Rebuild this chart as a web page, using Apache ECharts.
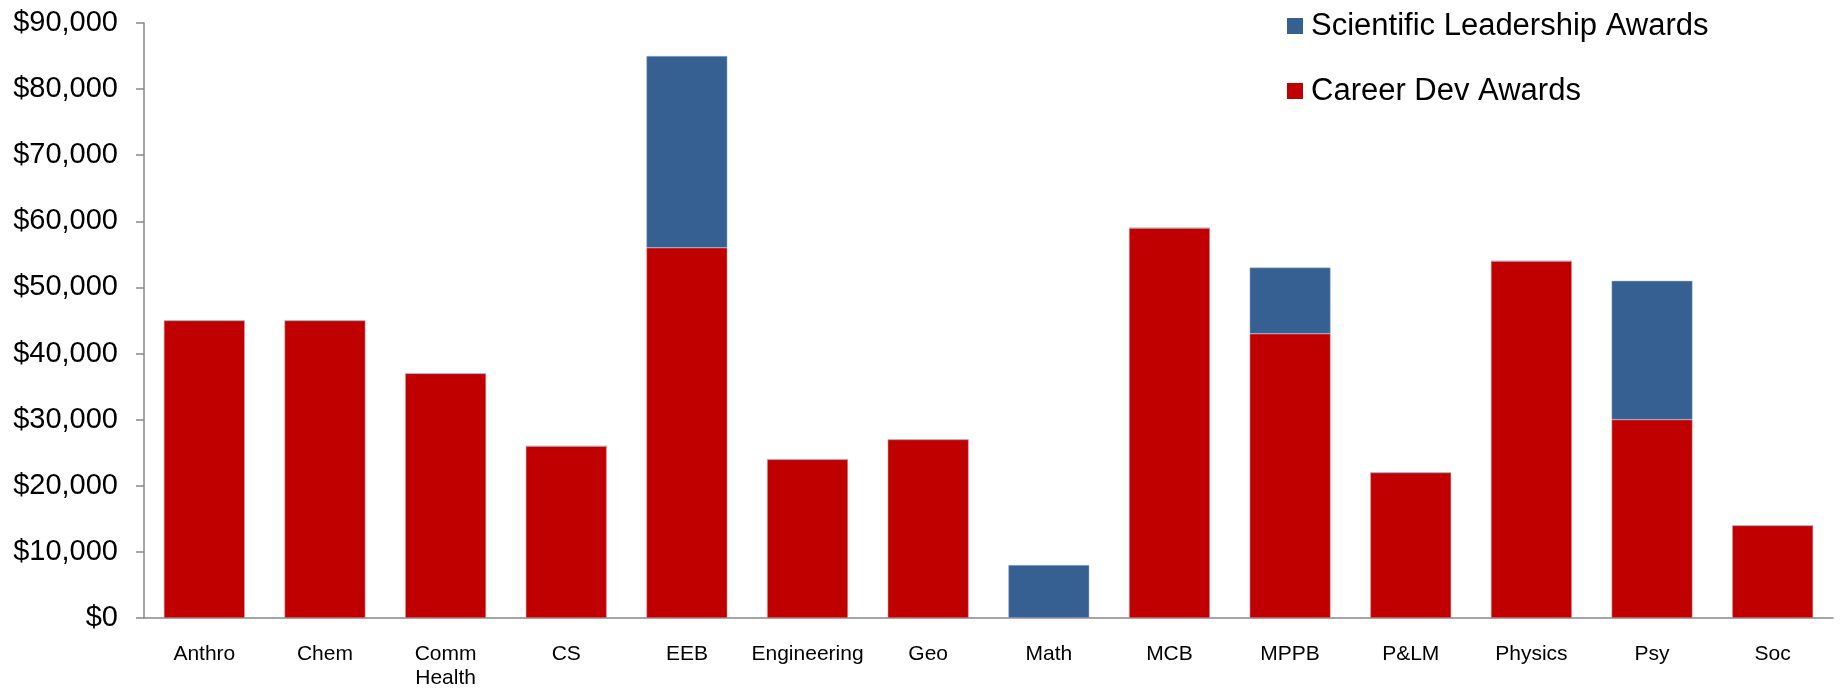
<!DOCTYPE html>
<html>
<head>
<meta charset="utf-8">
<script src="https://cdn.jsdelivr.net/npm/echarts@6/dist/echarts.min.js"></script>
<style>
html,body{margin:0;padding:0;background:#fff;}
#chart{width:1841px;height:690px;}
</style>
</head>
<body>
<div id="chart"></div>
<script>
const categories = ['Anthro','Chem','Comm\nHealth','CS','EEB','Engineering','Geo','Math','MCB','MPPB','P&LM','Physics','Psy','Soc'];
const careerDev = [45000,45000,37000,26000,56000,24000,27000,0,59000,43000,22000,54000,30000,14000];
const sciLeadership = [0,0,0,0,29000,0,0,8000,0,10000,0,0,21000,0];
const yTicks = {min:0, max:90000, interval:10000};

const chart = echarts.init(document.getElementById('chart'));
const FONT = '"Liberation Sans", Arial, sans-serif';
chart.setOption({
  animation:false,
  backgroundColor:'#ffffff',
  grid:{left:144, right:8, top:23, bottom:72, containLabel:false},
  legend:{
    orient:'vertical',
    left:1282, top:5,
    itemWidth:16, itemHeight:16, itemGap:33,
    icon:'rect',
    itemStyle:{borderWidth:0},
    data:['Scientific Leadership Awards','Career Dev Awards'],
    textStyle:{fontFamily:FONT, fontSize:31, color:'#000', lineHeight:32, padding:[0,0,0,3]}
  },
  xAxis:{
    type:'category',
    data:categories,
    axisLine:{lineStyle:{color:'#888888', width:1.5}},
    axisTick:{length:6, lineStyle:{color:'#888888', width:1.5}},
    axisLabel:{fontFamily:FONT, fontSize:21, color:'#000', margin:24, lineHeight:24, interval:0}
  },
  yAxis:{
    type:'value',
    min:yTicks.min, max:yTicks.max, interval:yTicks.interval,
    splitLine:{show:false},
    axisLine:{show:true, lineStyle:{color:'#888888', width:1.5}},
    axisTick:{show:true, length:8, lineStyle:{color:'#888888', width:1.5}},
    axisLabel:{fontFamily:FONT, fontSize:29, color:'#000', margin:26,
      formatter:v => '$' + v.toLocaleString('en-US')}
  },
  series:[
    {name:'Career Dev Awards', type:'bar', stack:'a', data:careerDev, barCategoryGap:'33%',
     itemStyle:{color:'#C00000', borderColor:'#d9a0a0', borderWidth:0.5}},
    {name:'Scientific Leadership Awards', type:'bar', stack:'a', data:sciLeadership, barCategoryGap:'33%',
     itemStyle:{color:'#376092', borderColor:'#9db3cf', borderWidth:0.5}}
  ]
});
</script>
</body>
</html>
